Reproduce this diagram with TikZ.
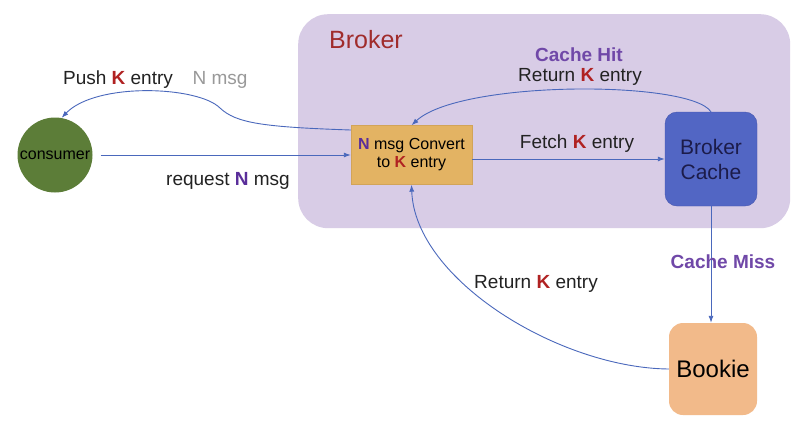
\documentclass[tikz,border=0pt]{standalone}
\usepackage{fontspec}
\setmainfont{Liberation Sans}
\usetikzlibrary{arrows.meta}

\definecolor{brokerbg}{HTML}{D8CCE6}
\definecolor{brokerred}{HTML}{A02C2C}
\definecolor{consgreen}{HTML}{5C7D38}
\definecolor{convorange}{HTML}{E3B363}
\definecolor{convborder}{HTML}{D2A458}
\definecolor{cacheblue}{HTML}{5266C4}
\definecolor{cacheborder}{HTML}{4656AE}
\definecolor{cachetext}{HTML}{1C1C4A}
\definecolor{bookiepeach}{HTML}{F2BA8A}
\definecolor{flowblue}{HTML}{4A68BC}
\definecolor{kred}{HTML}{B02222}
\definecolor{npurple}{HTML}{5A2E9A}
\definecolor{hitpurple}{HTML}{7048A8}
\definecolor{textgray}{HTML}{222222}

\newcommand{\kk}{\textcolor{kred}{\textbf{K}}}
\newcommand{\nn}{\textcolor{npurple}{\textbf{N}}}

\tikzset{
  flow/.style={draw=flowblue, line width=0.9pt, -{Latex[length=7pt,width=5pt]}},
  lbl/.style={text=textgray, font=\fontsize{19}{22}\selectfont},
  boldlbl/.style={text=hitpurple, font=\fontsize{19}{22}\selectfont\bfseries},
}

\begin{document}
\begin{tikzpicture}[x=1pt, y=-1pt]
\useasboundingbox (0,0) rectangle (800,424);
\fill[white] (0,0) rectangle (800,424);

\node[fill=brokerbg, rounded corners=30pt, minimum width=492pt, minimum height=214pt, anchor=north west] (broker) at (298,14) {};
\node[text=brokerred, font=\fontsize{25}{28}\selectfont] (brokerlbl) at (366,40) {Broker};

\node[circle, fill=consgreen, minimum size=75pt, inner sep=0pt, font=\fontsize{16}{18}\selectfont] (cons) at (55,155) {consumer};
\node[fill=convorange, draw=convborder, minimum width=121pt, minimum height=59pt, inner sep=2pt, align=center, font=\fontsize{16}{18}\selectfont] (conv) at (411.5,155) {\nn{} msg Convert\\to \kk{} entry};
\node[fill=cacheblue, draw=cacheborder, rounded corners=12pt, minimum width=92pt, minimum height=94pt, align=center, text=cachetext, font=\fontsize{21}{25}\selectfont] (cache) at (711,159) {Broker\\Cache};
\node[fill=bookiepeach, rounded corners=14pt, minimum width=88pt, minimum height=92pt, font=\fontsize{24}{28}\selectfont] (bookie) at (713,369) {Bookie};

\draw[flow, shorten <=8pt] (cons.east) -- (cons.east -| conv.west);
\draw[flow] ([yshift=25pt]conv.west) .. controls (262,127) and (236,123) .. (220,108) .. controls (198,86) and (96,82) .. (cons.80);
\draw[flow] (conv.east |- cache.west) -- (cache.west);
\draw[flow] (cache.north) .. controls (690,80) and (460,80) .. (conv.north);
\draw[flow] (cache.south) -- (cache.south |- bookie.north);
\draw[flow] (bookie.west) .. controls (560,368) and (415,280) .. (conv.south);

\node[lbl] (push) at (118,80) {Push \kk{} entry};
\node[lbl, text=gray!80] (pushn) at (220,80) {N msg};
\node[lbl] (request) at (228,181) {request \nn{} msg};
\node[boldlbl] (hit) at (579,55) {Cache Hit};
\node[lbl] (hitret) at (580,77) {Return \kk{} entry};
\node[lbl] (fetch) at (577,144) {Fetch \kk{} entry};
\node[boldlbl] (miss) at (723,262) {Cache Miss};
\node[lbl] (missret) at (536,284) {Return \kk{} entry};
\end{tikzpicture}
\end{document}
